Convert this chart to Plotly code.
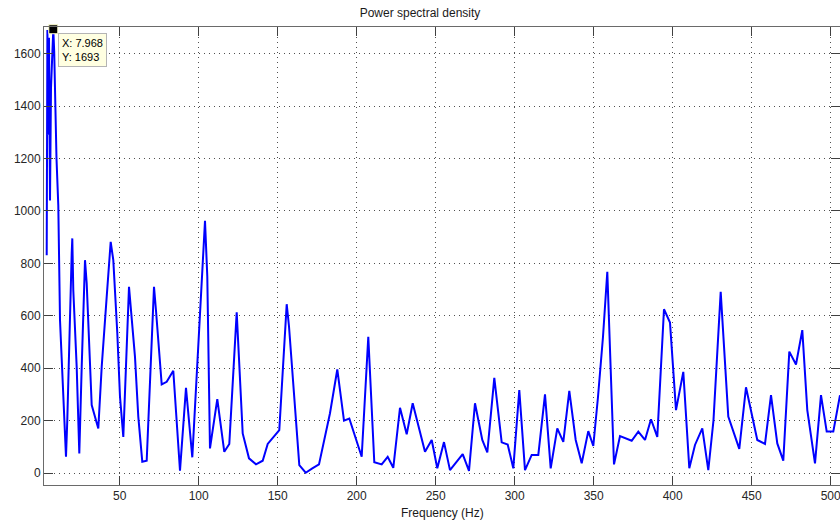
import plotly.graph_objects as go

# Frequency bins (Hz) and power spectral density values
freq = [3.80, 4.24, 4.75, 5.25, 5.89, 6.52, 7.968, 8.54, 10.0, 11.14, 12.22, 13.67, 14.75,
        16.01, 16.84, 18.10, 19.62, 20.0, 20.63, 22.78, 24.43, 25.95, 28.04, 29.11, 32.28,
        36.46, 38.61, 41.77, 44.30, 45.95, 48.48, 50.19, 52.28, 55.89, 59.68, 61.77, 64.30,
        67.09, 71.71, 72.97, 76.58, 79.75, 83.92, 88.16, 91.96, 95.95, 103.99, 105.44,
        107.15, 111.77, 116.20, 119.37, 124.05, 127.85, 131.84, 136.27, 140.51, 143.67,
        151.01, 155.70, 157.15, 163.67, 167.72, 171.90, 176.14, 183.10, 187.72, 191.96,
        195.32, 203.16, 207.34, 211.14, 215.82, 219.62, 223.16, 227.41, 231.65, 235.44,
        243.23, 247.47, 251.01, 255.25, 259.05, 267.09, 271.08, 274.87, 279.49, 282.66,
        287.09, 291.77, 295.57, 299.11, 302.91, 306.52, 310.76, 314.94, 319.18, 322.78,
        326.96, 330.76, 334.56, 338.61, 342.41, 346.58, 349.75, 352.72, 355.89, 358.61,
        359.68, 362.85, 366.65, 374.05, 378.23, 382.47, 386.27, 390.25, 394.49, 398.29,
        402.09, 406.71, 410.51, 414.11, 418.73, 422.53, 425.8, 430.38, 435.19, 442.15,
        446.39, 453.54, 458.42, 462.22, 466.20, 470.0, 473.80, 478.04, 482.03, 485.19,
        490.06, 493.86, 497.47, 501.65, 505.89]

psd = [831, 1690, 1290, 1660, 1040, 1470, 1693, 1610, 1200, 1020, 583, 405, 230,
       62, 202, 533, 838, 895, 698, 405, 75, 405, 812, 724, 259,
       170, 405, 672, 882, 812, 533, 291, 138, 710, 443, 215, 43,
       47, 710, 620, 338, 348, 390, 9, 325, 60, 962, 750,
       94, 282, 81, 111, 613, 151, 56, 33, 47, 111,
       164, 644, 560, 30, 1, 18, 33, 228, 395, 200,
       208, 62, 520, 41, 33, 62, 20, 249, 148, 266,
       81, 126, 18, 118, 11, 72, 8, 266, 126, 79,
       363, 117, 109, 18, 316, 11, 69, 69, 300, 18,
       170, 119, 313, 126, 37, 160, 103, 290, 520, 768,
       600, 33, 141, 123, 158, 126, 205, 138, 625, 574,
       240, 386, 18, 107, 170, 11, 200, 691, 215, 92,
       327, 126, 111, 297, 113, 47, 463, 414, 545, 240,
       37, 297, 158, 158, 297]

# Data cursor position
tip_x = 7.968
tip_y = 1693

x_ticks = [50, 100, 150, 200, 250, 300, 350, 400, 450, 500]
y_ticks = [0, 200, 400, 600, 800, 1000, 1200, 1400, 1600]

x_range = [2.09, 505.89]
y_range = [-45.7, 1701.5]

font_family = "Liberation Sans, Arial, sans-serif"
grid_style = dict(showgrid=True, gridcolor="#505050", griddash="1px,4px", gridwidth=1)

fig = go.Figure()

fig.add_trace(go.Scatter(
    x=freq, y=psd, mode="lines",
    line=dict(color="#0000ff", width=2),
    hoverinfo="skip", showlegend=False,
))

# Right-hand tick marks
fig.add_trace(go.Scatter(
    x=[freq[0]], y=[psd[0]], yaxis="y2", mode="markers",
    marker=dict(opacity=0), hoverinfo="skip", showlegend=False,
))

# Data cursor marker
fig.add_trace(go.Scatter(
    x=[tip_x], y=[tip_y], mode="markers",
    marker=dict(symbol="square", size=9, color="black",
                line=dict(color="#ffffcc", width=1)),
    hoverinfo="skip", showlegend=False, cliponaxis=False,
))

fig.add_annotation(
    x=tip_x, y=tip_y, xref="x", yref="y",
    text=f"X: {tip_x:.4g}<br>Y: {tip_y:.0f}",
    showarrow=False, xanchor="left", yanchor="top", align="left",
    xshift=5, yshift=-4,
    bgcolor="#ffffe1", bordercolor="#b4b4b4", borderwidth=1, borderpad=3,
    font=dict(family=font_family, size=11, color="#000000"),
)

fig.add_annotation(
    x=0.501, y=-0.061, xref="paper", yref="paper",
    text="Frequency (Hz)", showarrow=False,
    xanchor="center", yanchor="middle",
    font=dict(family=font_family, size=12, color="#1a1a1a"),
)

fig.update_layout(
    width=840, height=523,
    margin=dict(l=44, r=0, t=27, b=38),
    paper_bgcolor="white", plot_bgcolor="white",
    title=dict(text="Power spectral density", x=0.5, xanchor="center",
               y=1 - 12.7 / 523, yanchor="middle",
               font=dict(family=font_family, size=12, color="#1a1a1a")),
    xaxis=dict(
        range=x_range, tickvals=x_ticks, ticktext=[str(v) for v in x_ticks],
        ticks="inside", ticklen=9, tickcolor="#404040",
        showline=True, linecolor="#6a6a6a", linewidth=1, mirror="ticks",
        zeroline=False, ticklabeloverflow="allow",
        tickfont=dict(family=font_family, size=12, color="#262626"),
        **grid_style,
    ),
    yaxis=dict(
        range=y_range, tickvals=y_ticks, ticktext=[str(v) for v in y_ticks],
        ticks="inside", ticklen=9, tickcolor="#404040",
        showline=True, linecolor="#6a6a6a", linewidth=1, mirror=False,
        zeroline=False,
        tickfont=dict(family=font_family, size=12, color="#262626"),
        **grid_style,
    ),
    yaxis2=dict(
        range=y_range, tickvals=y_ticks, overlaying="y", side="right",
        ticks="inside", ticklen=9, tickcolor="#404040",
        showticklabels=False, showgrid=False, showline=False, zeroline=False,
    ),
)

fig.write_html("out.html")
